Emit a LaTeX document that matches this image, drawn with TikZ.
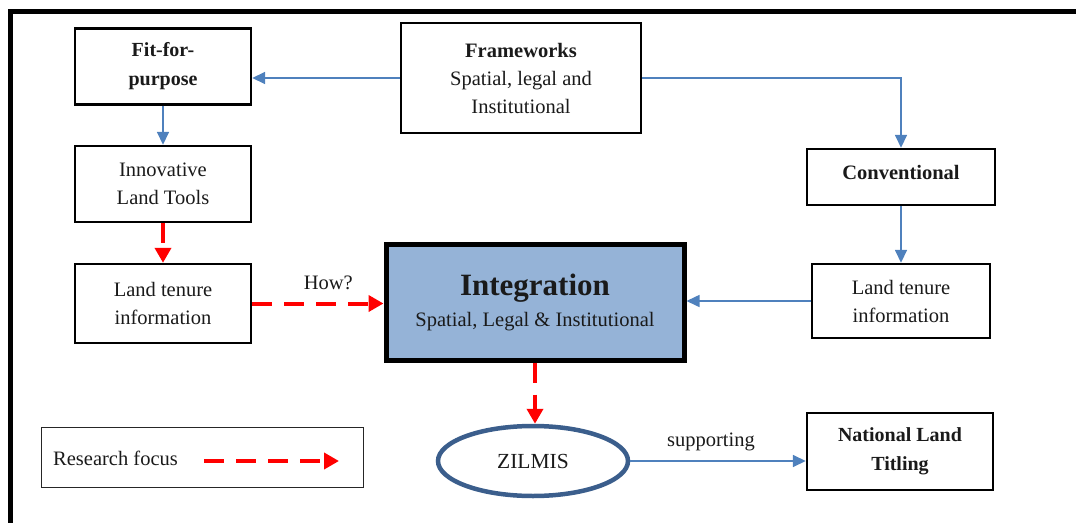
\documentclass[tikz,border=0pt]{standalone}
\usepackage{fontspec}
\setmainfont{Liberation Serif}
\usetikzlibrary{arrows.meta,shapes.geometric}

\definecolor{flowblue}{HTML}{4F81BD}
\definecolor{integfill}{HTML}{95B3D7}
\definecolor{ringblue}{HTML}{3B5E8C}
\definecolor{focusred}{HTML}{FF0000}
\definecolor{textgray}{HTML}{1A1A1A}

\tikzset{
  box/.style={draw=black, line width=2.4pt, inner sep=0pt, align=center,
    text=textgray, font=\fontsize{20.5}{28}\selectfont},
  boldbox/.style={box, font=\fontsize{20}{29}\selectfont\bfseries},
  flow/.style={draw=flowblue, line width=1.6pt,
    -{Triangle[length=13pt,width=12pt]}},
  focus/.style={draw=focusred, line width=4pt, dash pattern=on 20pt off 12pt,
    -{Triangle[length=15pt,width=16pt]}},
  edgelabel/.style={text=textgray, font=\fontsize{20.5}{24}\selectfont}
}

\begin{document}
\begin{tikzpicture}[x=1pt,y=-1pt]
  \useasboundingbox (0,0) rectangle (1076,522);
  \clip (0,0) rectangle (1076,522);

  % open outer frame (top and left edges)
  \draw[line width=5pt] (10,540) -- (10,11) -- (1100,11);

  % left column
  \node[boldbox, minimum width=176pt, minimum height=76pt] (fit) at (163,66.5)
    {Fit-for-\\purpose};
  \node[box, minimum width=176pt, minimum height=76pt] (inno) at (163,184)
    {Innovative\\Land Tools};
  \node[box, minimum width=176pt, minimum height=79pt] (ltl) at (163,303.5)
    {Land tenure\\information};

  % frameworks
  \node[box, minimum width=240pt, minimum height=110pt] (fw) at (521,78)
    {\textbf{Frameworks}\\Spatial, legal and\\Institutional};

  % right column
  \node[box, minimum width=188pt, minimum height=56pt] (conv) at (901,177) {};
  \node[text=textgray, font=\fontsize{20.5}{24}\selectfont\bfseries] (convtext)
    at (901,172.5) {Conventional};
  \node[box, minimum width=178pt, minimum height=74pt] (ltr) at (901,301)
    {Land tenure\\information};

  % integration
  \node[draw=black, line width=5pt, fill=integfill, minimum width=298pt,
    minimum height=116pt, inner sep=0pt, align=center, text=textgray] (integ)
    at (535,302)
    {{\fontsize{31}{34}\selectfont\bfseries Integration}\\[9pt]
     {\fontsize{20.5}{22}\selectfont Spatial, Legal \& Institutional}};

  % bottom row
  \node[ellipse, draw=ringblue, line width=4.5pt, minimum width=190pt,
    minimum height=70pt, inner sep=0pt, text=textgray,
    font=\fontsize{21.5}{24}\selectfont] (zil) at (533,461) {ZILMIS};
  \node[boldbox, minimum width=186pt, minimum height=77pt] (nlt) at (900,451.5)
    {National Land\\Titling};

  % legend
  \node[draw=black!85, line width=1pt, minimum width=322pt, minimum height=60pt,
    inner sep=0pt] (legend) at (202,457) {};
  \node[anchor=west, inner sep=0pt, text=textgray,
    font=\fontsize{20.5}{22}\selectfont] (legendtext) at (53,458) {Research focus};
  \coordinate (legA) at (204,461);
  \coordinate (legB) at (339,461);
  \draw[focus] (legA) -- (legB);

  % connectors
  \draw[flow] (fw.west) -- (fw.west -| fit.east);
  \draw[flow] (fw.east) -| (conv.north);
  \draw[flow] (fit.south) -- (inno.north);
  \draw[focus] (inno.south) -- (ltl.north);
  \draw[focus] (ltl.east) -- (ltl.east -| integ.west)
    node[edgelabel, pos=0.58, above=8pt] (how) {How?};
  \draw[flow] (conv.south) -- (ltr.north);
  \draw[flow] (ltr.west) -- (ltr.west -| integ.east);
  \draw[focus] (integ.south) -- (integ.south |- zil.north);
  \draw[flow] (zil.east) -- (zil.east -| nlt.west)
    node[edgelabel, pos=0.46, above=6pt] (supp) {supporting};
\end{tikzpicture}
\end{document}
